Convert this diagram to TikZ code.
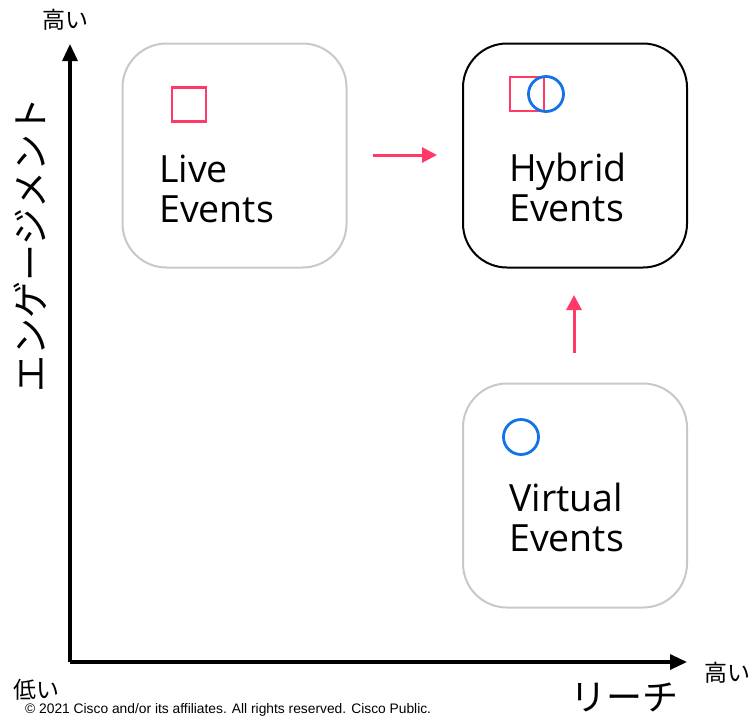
\documentclass[tikz,border=0pt]{standalone}
\usepackage{fontspec}
\setmainfont{Open Sans}
\newfontfamily\jpfont{Noto Sans CJK JP}
\newfontfamily\notefont{Liberation Sans}
\usetikzlibrary{arrows.meta}
\definecolor{accentred}{HTML}{FF3A68}
\definecolor{accentblue}{HTML}{1273E6}
\definecolor{framegray}{HTML}{C8C8C8}
\tikzset{
  axis/.style={line width=3.2pt, -{Triangle[length=17pt,width=15pt]}},
  flow/.style={line width=3pt, accentred, -{Triangle[length=15pt,width=15pt]}},
  panel/.style={rounded corners=44pt, line width=2pt, minimum width=224pt, minimum height=224pt, inner sep=0pt},
  panelgray/.style={panel, draw=framegray},
  panelblack/.style={panel, draw=black},
  title/.style={anchor=north west, align=left, inner sep=0pt, font=\fontsize{37.5}{40}\selectfont},
  livemark/.style={draw=accentred, line width=2.8pt, minimum size=34pt, inner sep=0pt},
  virtmark/.style={draw=accentblue, line width=2.8pt, circle, minimum size=35pt, inner sep=0pt},
  jplabel/.style={inner sep=0pt, font=\jpfont\fontsize{23}{25}\selectfont},
}
\begin{document}
\begin{tikzpicture}[x=1pt,y=-1pt]
\useasboundingbox (0,0) rectangle (753,716);

% axes
\coordinate (origin) at (70,662);
\coordinate (ytip) at (70,44);
\coordinate (xtip) at (687,662);
\draw[axis] (origin) -- (ytip);
\draw[axis] (origin) -- (xtip);

% axis labels
\node[jplabel] (yhigh) at (65,20) {高い};
\node[jplabel] (xhigh) at (727,673) {高い};
\node[jplabel] (low) at (36,690) {低い};
\node[inner sep=0pt, font=\jpfont\fontsize{36}{38}\selectfont] (reach) at (624,697) {リーチ};
\node[inner sep=0pt, rotate=90, font=\jpfont\fontsize{37}{39}\selectfont] (engage) at (30,245) {エンゲージメント};
\node[inner sep=0pt, anchor=west, font=\notefont\fontsize{13.8}{15}\selectfont] (note) at (25,710) {© 2021 Cisco and/or its affiliates. All rights reserved. Cisco Public.};

% panels
\node[panelgray] (live) at (234.5,155.5) {};
\node[panelblack] (hybrid) at (575,155.5) {};
\node[panelgray] (virtual) at (575,495.5) {};

% panel titles
\node[title] (livetext) at (159,155) {Live\\Events};
\node[title] (hybridtext) at (509,153) {Hybrid\\Events};
\node[title] (virtualtext) at (509,483) {Virtual\\Events};

% markers
\node[livemark] (livesq) at (189,104.5) {};
\node[livemark] (hybridsq) at (527,94) {};
\node[virtmark] (hybridci) at (546,94) {};
\node[virtmark] (virtci) at (521,437) {};

% transitions
\coordinate (lr0) at (373,155);
\coordinate (lr1) at (437,155);
\coordinate (up0) at (574,353);
\coordinate (up1) at (574,295);
\draw[flow] (lr0) -- (lr1);
\draw[flow] (up0) -- (up1);
\end{tikzpicture}
\end{document}
